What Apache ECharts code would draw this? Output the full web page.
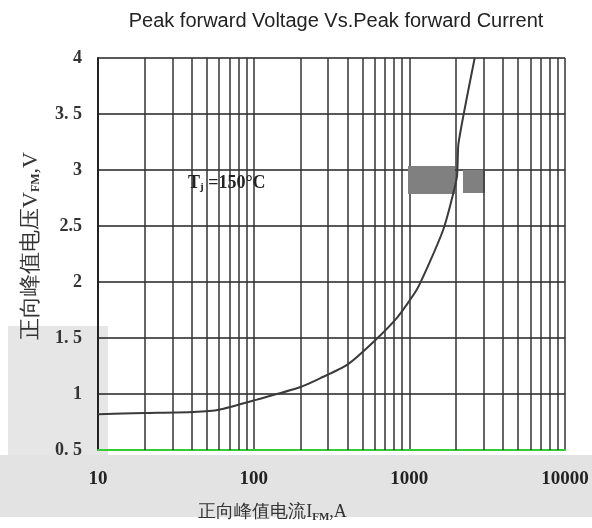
<!DOCTYPE html>
<html><head><meta charset="utf-8">
<script src="https://cdn.jsdelivr.net/npm/echarts@6/dist/echarts.min.js"></script>
<style>html,body{margin:0;padding:0;background:#fff}#c{width:592px;height:528px}</style>
</head><body><div id="c"></div>
<script>
var titleText = 'Peak forward Voltage Vs.Peak forward Current';
var current = [10, 20, 41, 60, 105, 198, 267, 398, 583, 832, 1115, 1345, 1644, 1820, 2023, 2070, 2630];
var voltage = [0.82, 0.83, 0.84, 0.86, 0.95, 1.06, 1.14, 1.26, 1.46, 1.68, 1.93, 2.17, 2.46, 2.67, 2.94, 3.24, 4.0];
var yTickLabels = {'0.5':'0. 5','1':'1','1.5':'1. 5','2':'2','2.5':'2.5','3':'3','3.5':'3. 5','4':'4'};
var xTickLabels = {'10':'10','100':'100','1000':'1000','10000':'10000'};
var minorGrid = [20,30,40,50,60,70,80,90,200,300,400,500,600,700,800,900,2000,3000,4000,5000,6000,7000,8000,9000];

var chart = echarts.init(document.getElementById('c'));
var serif = '"Liberation Serif","DejaVu Serif",serif';
chart.setOption({
  backgroundColor: '#fff',
  animation: false,
  title: {text: titleText, left: 331, textAlign: 'center', top: 6,
    textStyle: {fontFamily: '"Liberation Sans",Arial,sans-serif', fontSize: 20, fontWeight: 'normal', color: '#222'}},
  graphic: [
    {type: 'rect', z: -10, shape: {x: 0, y: 455, width: 592, height: 62}, style: {fill: '#e3e3e3'}},
    {type: 'rect', z: -10, shape: {x: 8, y: 326, width: 100, height: 129}, style: {fill: '#e6e6e6'}},
    {type: 'rect', z: 1, shape: {x: 408, y: 166, width: 47, height: 28}, style: {fill: '#808080'}},
    {type: 'rect', z: 1, shape: {x: 463, y: 170, width: 22, height: 23}, style: {fill: '#808080'}},
    {type: 'text', left: 188, top: 174, z: 10, style: {
      text: '{a|T}{s|j}{a| =150°C}', rich: {
        a: {fontFamily: serif, fontSize: 18, fontWeight: 'bold', fill: '#222'},
        s: {fontFamily: serif, fontSize: 11, fontWeight: 'bold', fill: '#222', padding: [8,0,0,0]}
      }}}
  ],
  grid: {left: 98, right: 27, top: 58, bottom: 78, outerBoundsMode: 'none', containLabel: false},
  xAxis: {
    type: 'log', logBase: 10, min: 10, max: 10000,
    axisLine: {show: true, lineStyle: {color: '#3c3', width: 2}},
    axisTick: {show: false},
    axisLabel: {margin: 20, fontFamily: serif, fontSize: 19, fontWeight: 'bold', color: '#222',
      formatter: function(v){ return xTickLabels[String(Math.round(v))] || ''; }},
    splitLine: {show: true, lineStyle: {color: '#333', width: 1.5}},
    name: '{t|正向峰值电流I}{s|FM}{t|,A}', nameLocation: 'middle', nameGap: 52,
    nameTextStyle: {padding: [0, 118, 0, 0], rich: {
      t: {fontFamily: serif, fontSize: 18, color: '#333'},
      s: {fontFamily: serif, fontSize: 11, fontWeight: 'bold', color: '#333', padding: [10,0,0,0]}
    }}
  },
  yAxis: {
    type: 'value', min: 0.5, max: 4, interval: 0.5,
    axisLine: {show: true, lineStyle: {color: '#222', width: 2}},
    axisTick: {show: false},
    axisLabel: {margin: 16, fontFamily: serif, fontSize: 18, fontWeight: 'bold', color: '#333',
      formatter: function(v){ return yTickLabels[String(v)] || String(v); }},
    splitLine: {show: true, lineStyle: {color: '#222', width: 1.5}},
    name: '{t|正向峰值电压V}{s|FM}{t|,V}', nameLocation: 'middle', nameGap: 56, nameRotate: 90,
    nameTextStyle: {padding: [0, 0, 0, 16], rich: {
      t: {fontFamily: serif, fontSize: 22, color: '#333'},
      s: {fontFamily: serif, fontSize: 12, fontWeight: 'bold', color: '#333', padding: [10,0,0,0]}
    }}
  },
  series: [
    {type: 'line', data: [], silent: true,
      markLine: {symbol: 'none', silent: true, label: {show: false},
        lineStyle: {color: '#333', width: 1.5, type: 'solid'},
        data: minorGrid.map(function(v){ return {xAxis: v}; })}},
    {type: 'line', z: 5, data: current.map(function(c, i){ return [c, voltage[i]]; }),
      showSymbol: false, smooth: 0.2, clip: true,
      lineStyle: {color: '#3a3a3a', width: 2}}
  ]
});
</script></body></html>
